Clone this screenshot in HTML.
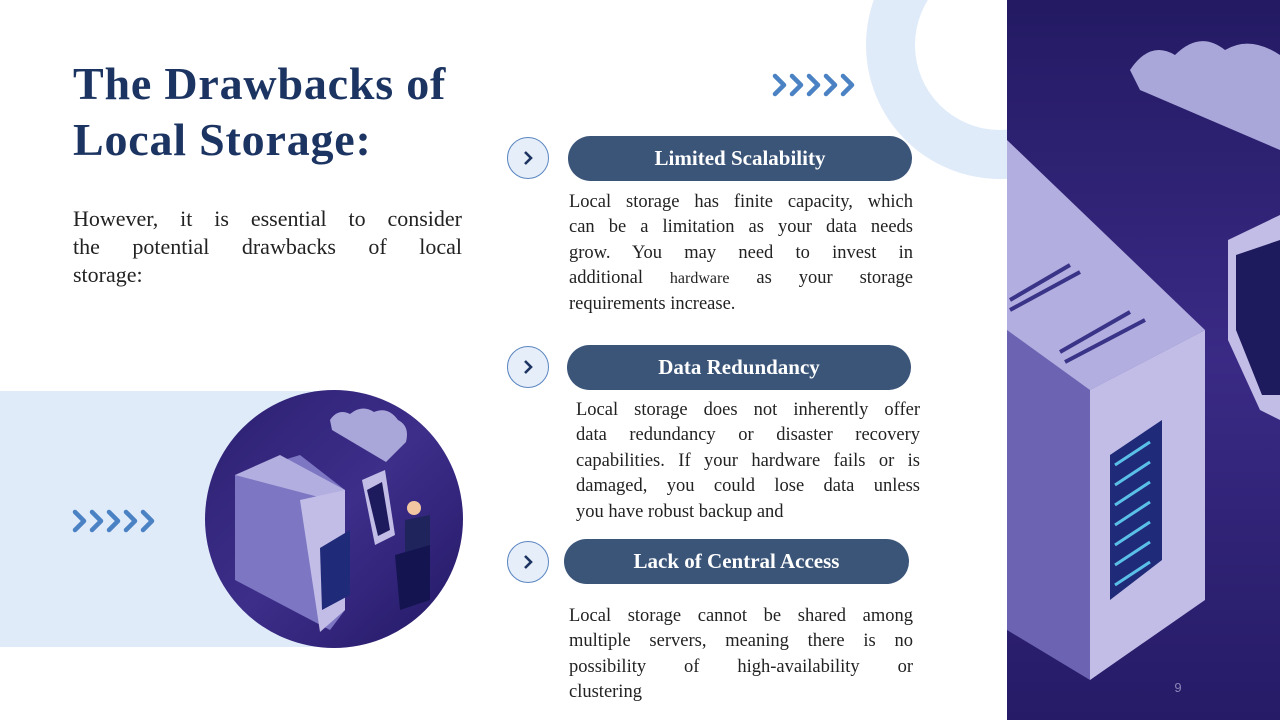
<!DOCTYPE html>
<html><head><meta charset="utf-8"><style>
body{margin:0;width:1280px;height:720px;overflow:hidden;background:#fff;position:relative;font-family:"Liberation Serif",serif}
.abs{position:absolute}
h1{position:absolute;left:73px;top:56px;margin:0;font-size:46px;letter-spacing:0.8px;line-height:56px;color:#1c3461;font-weight:bold}
.intro{left:73px;top:205px;width:389px;font-size:22px;line-height:28px;color:#222}
.pill{position:absolute;height:45px;border-radius:23px;background:#3b5579;color:#fff;font-weight:bold;font-size:21px;text-align:center;line-height:45px}
.circ{position:absolute;width:42px;height:42px;border-radius:50%;background:#e6eefa;border:1.5px solid #5b86c0;box-sizing:border-box}
.circ svg{position:absolute;left:13px;top:12px}
.txt{position:absolute;font-size:18.5px;line-height:25.4px;color:#222}
.l{display:block;text-align:justify;text-align-last:justify;white-space:nowrap}
.e{display:block;white-space:nowrap}
</style></head><body>
<svg class="abs" style="left:0;top:0" width="1280" height="720">
<defs>
<linearGradient id="pg" x1="0" y1="0" x2="0" y2="1"><stop offset="0" stop-color="#231a63"/><stop offset=".5" stop-color="#3a2a85"/><stop offset="1" stop-color="#251b66"/></linearGradient>
<linearGradient id="cg" x1="0" y1="0" x2="1" y2="1"><stop offset="0" stop-color="#2b2070"/><stop offset=".5" stop-color="#3d2e8a"/><stop offset="1" stop-color="#231865"/></linearGradient>
<clipPath id="cc"><circle cx="334" cy="519" r="129"/></clipPath>
</defs>
<rect x="0" y="391" width="334" height="256" fill="#e0ebfa"/>
<path d="M1000 45 m-134 0 a134 134 0 1 0 268 0 a134 134 0 1 0 -268 0 M1000 45 m-85 0 a85 85 0 1 1 170 0 a85 85 0 1 1 -170 0" fill="#e0ebfa" fill-rule="evenodd"/>
<rect x="1007" y="0" width="273" height="720" fill="url(#pg)"/>
<path d="M1130 70 q20-30 45-15 q25-25 50-5 q25-15 55 5 L1280 150 L1140 90 Z" fill="#a9a6d9"/>
<path d="M1007 200 L1200 330 L1200 600 L1090 680 L1007 630 Z" fill="#6c64b3"/>
<path d="M1090 390 L1205 330 L1205 600 L1090 680 Z" fill="#c1bde6"/>
<path d="M1007 140 L1205 330 L1090 390 L1007 330 Z" fill="#b3aee0"/>
<path d="M1110 455 L1162 420 L1162 560 L1110 600 Z" fill="#1f2a78"/>
<g stroke="#5bc0e8" stroke-width="3"><line x1="1115" y1="465" x2="1150" y2="442"/><line x1="1115" y1="485" x2="1150" y2="462"/><line x1="1115" y1="505" x2="1150" y2="482"/><line x1="1115" y1="525" x2="1150" y2="502"/><line x1="1115" y1="545" x2="1150" y2="522"/><line x1="1115" y1="565" x2="1150" y2="542"/><line x1="1115" y1="585" x2="1150" y2="562"/></g>
<g stroke="#3a3488" stroke-width="4"><line x1="1010" y1="300" x2="1070" y2="265"/><line x1="1010" y1="310" x2="1080" y2="272"/><line x1="1060" y1="352" x2="1130" y2="312"/><line x1="1065" y1="362" x2="1145" y2="320"/></g>
<path d="M1228 240 L1280 215 L1280 420 L1260 410 L1228 340 Z" fill="#c1bde6"/>
<path d="M1236 255 L1280 240 L1280 395 L1262 395 L1236 330 Z" fill="#1e1a5e"/>
<circle cx="334" cy="519" r="129" fill="url(#cg)"/>
<g clip-path="url(#cc)">
<path d="M330 420 q8-12 20-6 q12-10 24-2 q14-6 24 8 q12 6 8 22 l-20 20 L332 430 Z" fill="#a9a6d9"/>
<path d="M235 475 L300 455 L345 490 L345 610 L330 630 L235 580 Z" fill="#7d76c3"/>
<path d="M235 475 L280 455 L345 490 L330 500 Z" fill="#b3aee0"/>
<path d="M300 500 L345 490 L345 610 L320 632 Z" fill="#c1bde6"/>
<path d="M320 548 L350 530 L350 595 L322 610 Z" fill="#1f2a78"/>
<path d="M362 480 L385 470 L395 535 L375 545 Z" fill="#c1bde6"/>
<path d="M367 490 L382 482 L390 530 L378 536 Z" fill="#1e1a5e"/>
<path d="M405 520 L430 515 L430 570 L405 575 Z" fill="#1f245c"/>
<path d="M395 555 L430 545 L430 600 L400 610 Z" fill="#141550"/>
<circle cx="414" cy="508" r="7" fill="#f2c6a0"/>
</g>
<g fill="none" stroke="#4a82c4" stroke-width="4.5" stroke-linecap="round" stroke-linejoin="round">
<path d="M775 76 l9 9 -9 9 M792 76 l9 9 -9 9 M809 76 l9 9 -9 9 M826 76 l9 9 -9 9 M843 76 l9 9 -9 9"/>
<path d="M75 512 l9 9 -9 9 M92 512 l9 9 -9 9 M109 512 l9 9 -9 9 M126 512 l9 9 -9 9 M143 512 l9 9 -9 9"/>
</g>
<text x="1178" y="692" font-family="Liberation Sans, sans-serif" font-size="13" fill="#8a86b8" text-anchor="middle">9</text>
</svg>
<h1>The Drawbacks of<br>Local Storage:</h1>
<div class="abs intro"><span class="l">However, it is essential to consider</span><span class="l">the potential drawbacks of local</span><span class="e">storage:</span></div>

<div class="circ" style="left:507px;top:137px"><svg width="14" height="16"><path d="M4 2 l6 6 -6 6" fill="none" stroke="#1c3461" stroke-width="2.6"/></svg></div>
<div class="pill" style="left:568px;top:136px;width:344px">Limited Scalability</div>
<div class="txt" style="left:569px;top:190px;width:344px"><span class="l">Local storage has finite capacity, which</span><span class="l">can be a limitation as your data needs</span><span class="l">grow. You may need to invest in</span><span class="l">additional <span style="font-size:16px">hardware</span> as your storage</span><span class="e">requirements increase.</span></div>

<div class="circ" style="left:507px;top:346px"><svg width="14" height="16"><path d="M4 2 l6 6 -6 6" fill="none" stroke="#1c3461" stroke-width="2.6"/></svg></div>
<div class="pill" style="left:567px;top:345px;width:344px">Data Redundancy</div>
<div class="txt" style="left:576px;top:398px;width:344px"><span class="l">Local storage does not inherently offer</span><span class="l">data redundancy or disaster recovery</span><span class="l">capabilities. If your hardware fails or is</span><span class="l">damaged, you could lose data unless</span><span class="e">you have robust backup and</span></div>

<div class="circ" style="left:507px;top:541px"><svg width="14" height="16"><path d="M4 2 l6 6 -6 6" fill="none" stroke="#1c3461" stroke-width="2.6"/></svg></div>
<div class="pill" style="left:564px;top:539px;width:345px">Lack of Central Access</div>
<div class="txt" style="left:569px;top:604px;width:344px"><span class="l">Local storage cannot be shared among</span><span class="l">multiple servers, meaning there is no</span><span class="l">possibility of high-availability or</span><span class="e">clustering</span></div>
</body></html>
